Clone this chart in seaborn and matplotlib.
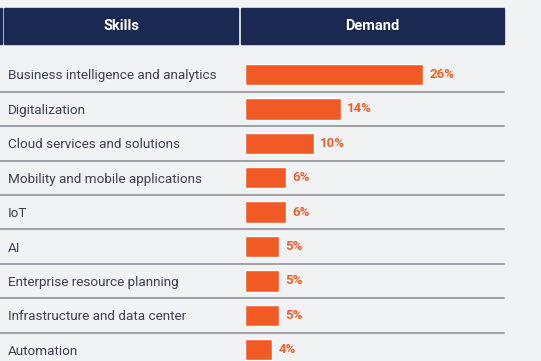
"""
Demande de compétences : barres horizontales avec seaborn.
"""

import matplotlib
matplotlib.use("Agg")
import matplotlib.pyplot as plt
import matplotlib.patches as mpatches
import pandas as pd
import seaborn as sns

skills = [
    "Business intelligence and analytics",
    "Digitalization",
    "Cloud services and solutions",
    "Mobility and mobile applications",
    "IoT",
    "AI",
    "Enterprise resource planning",
    "Infrastructure and data center",
    "Automation",
]
demand = [26, 14, 10, 6, 6, 5, 5, 5, 4]
headers = ["Skills", "Demand"]

BG = "#f1f2f4"
NAVY = "#1b2952"
ORANGE = "#f15a24"
LABEL_ORANGE = "#e8632f"
TEXT = "#3a4150"
LINE = "#8d939b"

W, H = 541, 361
PX_PER_PCT = 6.85

df = pd.DataFrame({"skill": skills, "demand": demand})

sns.set_style("white")
plt.rcParams["font.family"] = ["Roboto", "DejaVu Sans"]

fig = plt.figure(figsize=(W / 100, H / 100), dpi=100)
fig.patch.set_facecolor(BG)

# axes : x=0 à 245 px, jusqu'à 504 px
x0, x1 = 245, 504
ax = fig.add_axes([x0 / W, 0, (x1 - x0) / W, 1])
ax.set_facecolor("none")

sns.barplot(data=df, x="demand", y="skill", orient="h", color=ORANGE,
            width=0.62, saturation=1, ax=ax)

# lignes : centre du 1er rang à 74.5 px, pas de 34.4 px
row0, step = 74.5, 34.4
ax.set_ylim((H - row0) / step, -row0 / step)
ax.set_xlim(0, (x1 - x0) / PX_PER_PCT)

ax.bar_label(ax.containers[0], labels=[f"{v}%" for v in demand], padding=4.5,
             color=LABEL_ORANGE, fontweight="bold", fontsize=9.5)

# étiquettes de rangée alignées à gauche (x = 8 px)
ax.tick_params(axis="y", length=0, pad=(x0 - 8) * 0.72, labelsize=9.7,
               labelcolor=TEXT)
for lab in ax.get_yticklabels():
    lab.set_ha("left")
ax.set_xticks([])
ax.set_xlabel("")
ax.set_ylabel("")
for s in ax.spines.values():
    s.set_visible(False)

# séparateurs entre les rangées
for i in range(len(skills) - 1):
    ax.axhline(i + 0.5, xmin=-x0 / (x1 - x0), xmax=1, color=LINE, lw=1.2,
               clip_on=False)

# bandeau d'en-tête
top, bot = 8, 44
cells = [(4, 238), (241, 504)]
fig.patches.append(mpatches.Rectangle((0, 1 - bot / H), 505 / W, (bot - top) / H,
                                      transform=fig.transFigure,
                                      color="#fafbfc"))
fig.patches.append(mpatches.Rectangle((0, 1 - bot / H), 1.5 / W, (bot - top) / H,
                                      transform=fig.transFigure, color=NAVY))
for (a, b), name in zip(cells, headers):
    fig.patches.append(mpatches.Rectangle((a / W, 1 - bot / H), (b - a) / W,
                                          (bot - top) / H,
                                          transform=fig.transFigure,
                                          color=NAVY))
    fig.text((a + b) / 2 / W, 1 - (top + bot) / 2 / H, name, color="white",
             fontsize=10.5, fontweight="bold", ha="center", va="center")

fig.savefig("out.png", dpi=100, facecolor=BG)
